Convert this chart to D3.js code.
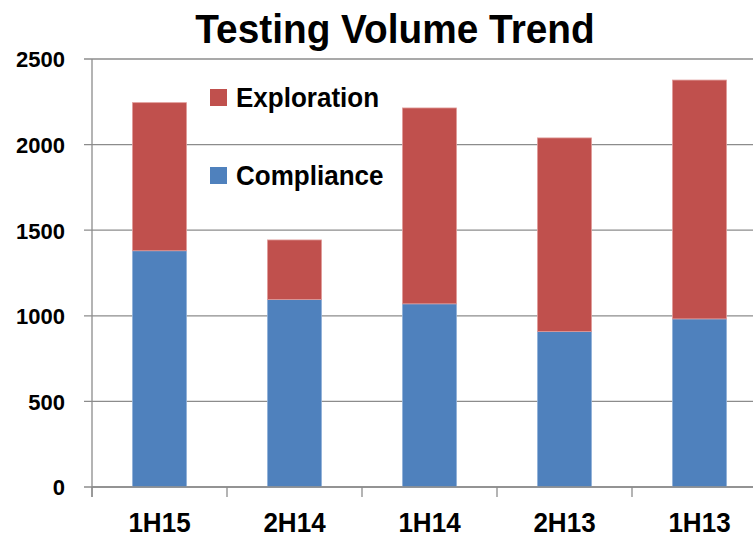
<!DOCTYPE html>
<html>
<head>
<meta charset="utf-8">
<script src="https://cdn.jsdelivr.net/npm/d3@7"></script>
<style>
    body { margin: 0; background: #fff; }
    svg { display: block; }
    .narrow { font-family: "Liberation Sans", Arial, sans-serif; font-weight: bold; }
    .ylab { font-family: "Liberation Sans", Arial, sans-serif; font-weight: bold; font-size: 22px; }
</style>
</head>
<body>
<script>
const CATEGORIES = ["1H15", "2H14", "1H14", "2H13", "1H13"];
const COMPLIANCE = [1380, 1095, 1070, 908, 982];
const EXPLORATION = [865, 348, 1144, 1131, 1395];
const Y_TICKS = [0, 500, 1000, 1500, 2000, 2500];

const SERIES = [
    { key: "compliance", name: "Compliance", color: "#4F81BD", edge: "#8fb0d8" },
    { key: "exploration", name: "Exploration", color: "#C0504D", edge: "#e09b99" }
];

const chartWidth = 753, chartHeight = 538;
const plotLeft = 92, plotBottom = 487, plotTop = 59;

const svg = d3.select("body").append("svg")
    .attr("width", chartWidth)
    .attr("height", chartHeight);

// no Arial Narrow installed, so squeeze Liberation Sans a bit
const narrowText = (parent, x, y, size, squeeze, anchor, str) => {
    return parent.append("text")
        .attr("class", "narrow")
        .attr("transform", `translate(${x}, ${y}) scale(${squeeze}, 1)`)
        .attr("text-anchor", anchor)
        .attr("font-size", size)
        .text(str);
};

const rows = CATEGORIES.map((c, i) => ({
    category: c,
    compliance: COMPLIANCE[i],
    exploration: EXPLORATION[i]
}));

// band is 135px wide, the last one runs past the right edge like the original
const xScale = d3.scaleBand()
    .domain(CATEGORIES)
    .range([plotLeft, plotLeft + 135 * CATEGORIES.length])
    .paddingInner(0.6)
    .paddingOuter(0.3);

const yScale = d3.scaleLinear()
    .domain([0, 2500])
    .range([plotBottom, plotTop]);

// gridlines
svg.append("g")
    .selectAll("line")
    .data(Y_TICKS)
    .enter()
    .append("line")
    .attr("x1", plotLeft - 8)
    .attr("x2", chartWidth)
    .attr("y1", d => yScale(d))
    .attr("y2", d => yScale(d))
    .attr("stroke", "#8c8c8c")
    .attr("stroke-width", 1.3);

// y labels
const yAxis = d3.axisLeft(yScale)
    .tickValues(Y_TICKS)
    .tickFormat(d3.format("d"))
    .tickSize(0)
    .tickPadding(27);
svg.append("g")
    .attr("transform", `translate(${plotLeft}, 0)`)
    .call(yAxis)
    .call(g => g.select(".domain").remove())
    .selectAll("text")
    .attr("class", "ylab")
    .attr("fill", "#000")
    .attr("dy", "0.36em");

// bars
const stacked = d3.stack().keys(SERIES.map(s => s.key))(rows);
svg.append("g")
    .selectAll("g")
    .data(stacked)
    .enter()
    .append("g")
    .attr("fill", (d, i) => SERIES[i].color)
    .attr("stroke", (d, i) => SERIES[i].edge)
    .attr("stroke-width", 0.8)
    .selectAll("rect")
    .data(d => d)
    .enter()
    .append("rect")
    .attr("x", d => xScale(d.data.category))
    .attr("y", d => yScale(d[1]))
    .attr("width", xScale.bandwidth())
    .attr("height", d => yScale(d[0]) - yScale(d[1]));

// x axis line + ticks at the category boundaries
const axisG = svg.append("g").attr("stroke", "#8c8c8c").attr("stroke-width", 1.3);
axisG.append("line")
    .attr("x1", plotLeft).attr("x2", chartWidth)
    .attr("y1", plotBottom).attr("y2", plotBottom);
axisG.selectAll(".tick")
    .data(d3.range(CATEGORIES.length + 1))
    .enter()
    .append("line")
    .attr("x1", i => plotLeft + xScale.step() * i)
    .attr("x2", i => plotLeft + xScale.step() * i)
    .attr("y1", plotBottom)
    .attr("y2", plotBottom + 10);
// y axis line
axisG.append("line")
    .attr("x1", plotLeft).attr("x2", plotLeft)
    .attr("y1", plotTop).attr("y2", plotBottom + 10);

// x labels
const xLabels = svg.append("g");
CATEGORIES.forEach(c => {
    narrowText(xLabels, xScale(c) + xScale.bandwidth() / 2, 532, 28, 0.93, "middle", c);
});

// title
narrowText(svg, 395, 43, 40, 0.97, "middle", "Testing Volume Trend");

// legend
const legend = [
    { s: SERIES[1], y: 89 },
    { s: SERIES[0], y: 167 }
];
legend.forEach(item => {
    const g = svg.append("g").attr("transform", `translate(210, ${item.y})`);
    g.append("rect")
        .attr("width", 17)
        .attr("height", 17)
        .attr("fill", item.s.color);
    narrowText(g, 26, 18, 28, 0.93, "start", item.s.name);
});
</script>
</body>
</html>
